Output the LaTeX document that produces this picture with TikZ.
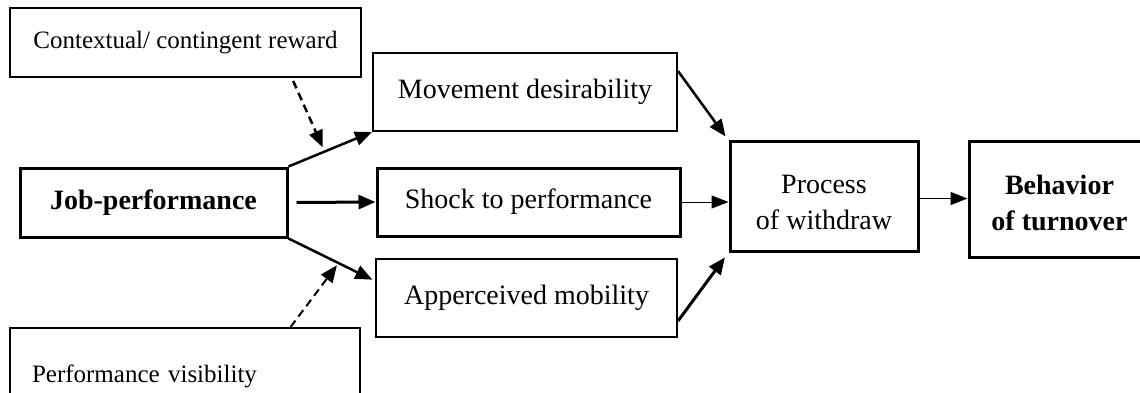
\documentclass[tikz,border=0pt]{standalone}
\usepackage{fontspec}
\setmainfont{Liberation Serif}
\usetikzlibrary{arrows.meta,calc}
\begin{document}
\begin{tikzpicture}[x=1pt,y=-1pt,
  box/.style={draw,rectangle,inner sep=0pt,line width=2pt,align=center},
  thickbox/.style={box,line width=3pt},
  big/.style={font=\fontsize{28}{36}\selectfont},
  small/.style={font=\fontsize{25}{30}\selectfont},
  arr/.style={-{Triangle[length=17pt,width=14pt]},line width=2.5pt},
  thinarr/.style={-{Triangle[length=17pt,width=13pt]},line width=1pt},
  darr/.style={-{Triangle[length=17pt,width=14pt]},line width=2.5pt,dash pattern=on 8pt off 5pt}
]
\useasboundingbox (0,0) rectangle (1140,393);
\clip (0,0) rectangle (1140,393);
\fill[white] (0,0) rectangle (1140,393);

\node[box,small,minimum width=351pt,minimum height=69pt] (ctx) at (185.5,42.5) {Contextual/ contingent reward};
\node[box,big,minimum width=304pt,minimum height=78pt] (move) at (525,92) {Movement desirability};
\node[thickbox,big,minimum width=267pt,minimum height=69pt] (job) at (153.5,202.5) {\raisebox{-6pt}{\bfseries Job-performance}};
\node[thickbox,big,minimum width=303pt,minimum height=68pt] (shock) at (528.5,202) {Shock to performance};
\node[box,big,minimum width=301pt,minimum height=78pt] (app) at (526.5,298) {Apperceived mobility};
\node[box,small,minimum width=350pt,minimum height=97pt,text width=306pt,align=left] (vis) at (185,376.5) {Performance visibility};
\node[thickbox,big,minimum width=188pt,minimum height=109pt] (proc) at (824,196.5) {\rule{0pt}{30pt}Process\\of withdraw};
\node[thickbox,big,minimum width=181pt,minimum height=115pt,font=\fontsize{28}{36}\selectfont\bfseries] (beh) at (1059.5,199.5) {\rule{0pt}{26pt}Behavior\\of turnover};

\coordinate (a1) at ([yshift=-23pt]app.north west);
\draw[arr] (job.north east) -- (move.south west);
\draw[arr,line width=3pt] ([xshift=8pt]job.east) -- (shock.west);
\draw[arr,shorten >=3pt] (job.south east) -- (a1);

\coordinate (c1) at ($(ctx.south west)!0.805!(ctx.south east)$);
\path (job.north east) -- (move.south west) coordinate[pos=0.41] (m1);
\draw[darr] ([yshift=-3pt]c1) -- ([yshift=5pt]m1);

\coordinate (c2) at ($(vis.north west)!0.80!(vis.north east)$);
\path (job.south east) -- (a1) coordinate[pos=0.56] (m2);
\draw[darr,line width=2pt] (c2) -- ([yshift=-3pt]m2);

\draw[arr,shorten >=5pt] ([yshift=-19pt]move.north east) -- (proc.north west);
\draw[thinarr] ([xshift=-3pt]shock.east) -- (shock.east -| proc.west);
\draw[arr,line width=3pt,shorten >=6pt] ([yshift=-63pt]app.north east) -- (proc.south west);
\draw[thinarr] ([yshift=-2pt]proc.east) -- ([yshift=-2pt]proc.east -| beh.west);
\end{tikzpicture}
\end{document}
